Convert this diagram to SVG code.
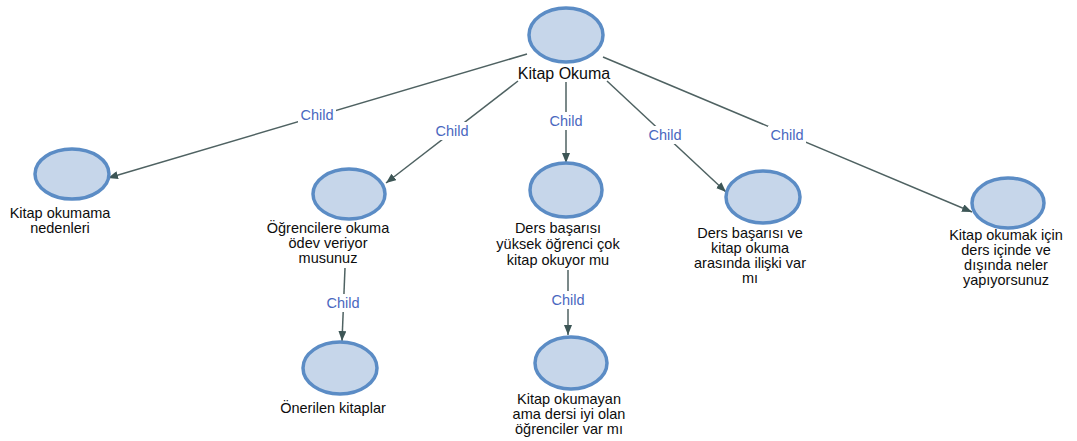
<svg xmlns="http://www.w3.org/2000/svg" width="1077" height="441" viewBox="0 0 1077 441">
<style>
.node ellipse{fill:#c6d6ea;stroke:#5b8cc5;stroke-width:3.5}
.lbl{font-family:"Liberation Sans",Arial,sans-serif;font-size:14.5px;fill:#0d0d0d;text-anchor:middle}
.root{font-size:16px}
.edge{stroke:#4f6262;stroke-width:1.5;fill:none;marker-end:url(#ah)}
.cl{font-family:"Liberation Sans",Arial,sans-serif;font-size:14.5px;fill:#4a68c0;text-anchor:middle}
.bg{fill:#ffffff}
</style>
<defs>
<marker id="ah" viewBox="0 0 10 8" refX="10" refY="4" markerWidth="10" markerHeight="8" markerUnits="userSpaceOnUse" orient="auto">
<path d="M0,0 L10,4 L0,8 Z" fill="#3d5656"/>
</marker>
</defs>
<g id="connectors">
<line class="edge" x1="527" y1="54" x2="108" y2="178"/>
<line class="edge" x1="518" y1="81" x2="386" y2="183"/>
<line class="edge" x1="566" y1="82" x2="566" y2="163"/>
<line class="edge" x1="607" y1="81" x2="726" y2="192"/>
<line class="edge" x1="603" y1="57" x2="972" y2="212"/>
<line class="edge" x1="345" y1="268" x2="342" y2="341"/>
<line class="edge" x1="568" y1="270" x2="568" y2="335"/>
<rect class="bg" x="298" y="106" width="38" height="18"/>
<text class="cl" x="317" y="120">Child</text>
<rect class="bg" x="433" y="122" width="38" height="18"/>
<text class="cl" x="452" y="136">Child</text>
<rect class="bg" x="547" y="112" width="38" height="18"/>
<text class="cl" x="566" y="126">Child</text>
<rect class="bg" x="646" y="126" width="38" height="18"/>
<text class="cl" x="665" y="140">Child</text>
<rect class="bg" x="768" y="126" width="38" height="18"/>
<text class="cl" x="787" y="140">Child</text>
<rect class="bg" x="324" y="294" width="38" height="18"/>
<text class="cl" x="343" y="308">Child</text>
<rect class="bg" x="549" y="291" width="38" height="18"/>
<text class="cl" x="568" y="305">Child</text>
</g>
<g id="n-root" class="node">
<ellipse cx="566" cy="35" rx="37" ry="27"/>
<text class="lbl root" x="564" y="79">Kitap Okuma</text>
</g>
<g id="n-nedenler" class="node">
<ellipse cx="72" cy="174" rx="37" ry="25"/>
<text class="lbl" x="60" y="218">Kitap okumama</text>
<text class="lbl" x="60" y="233">nedenleri</text>
</g>
<g id="n-odev" class="node">
<ellipse cx="349" cy="194" rx="36" ry="25"/>
<text class="lbl" x="328" y="233">Öğrencilere okuma</text>
<text class="lbl" x="328" y="248">ödev veriyor</text>
<text class="lbl" x="328" y="263">musunuz</text>
</g>
<g id="n-yuksek" class="node">
<ellipse cx="566" cy="190" rx="36" ry="27"/>
<text class="lbl" x="558" y="233">Ders başarısı</text>
<text class="lbl" x="558" y="249">yüksek öğrenci çok</text>
<text class="lbl" x="558" y="265">kitap okuyor mu</text>
</g>
<g id="n-iliski" class="node">
<ellipse cx="763" cy="197" rx="37" ry="26"/>
<text class="lbl" x="750" y="238">Ders başarısı ve</text>
<text class="lbl" x="750" y="253">kitap okuma</text>
<text class="lbl" x="750" y="268">arasında ilişki var</text>
<text class="lbl" x="750" y="283">mı</text>
</g>
<g id="n-icin" class="node">
<ellipse cx="1008" cy="203" rx="36" ry="25"/>
<text class="lbl" x="1006" y="240">Kitap okumak için</text>
<text class="lbl" x="1006" y="255">ders içinde ve</text>
<text class="lbl" x="1006" y="270">dışında neler</text>
<text class="lbl" x="1006" y="285">yapıyorsunuz</text>
</g>
<g id="n-onerilen" class="node">
<ellipse cx="340" cy="368" rx="37" ry="26"/>
<text class="lbl" x="333" y="413">Önerilen kitaplar</text>
</g>
<g id="n-okumayan" class="node">
<ellipse cx="571" cy="363" rx="36" ry="26"/>
<text class="lbl" x="569" y="404">Kitap okumayan</text>
<text class="lbl" x="569" y="419">ama dersi iyi olan</text>
<text class="lbl" x="569" y="434">öğrenciler var mı</text>
</g>
</svg>
